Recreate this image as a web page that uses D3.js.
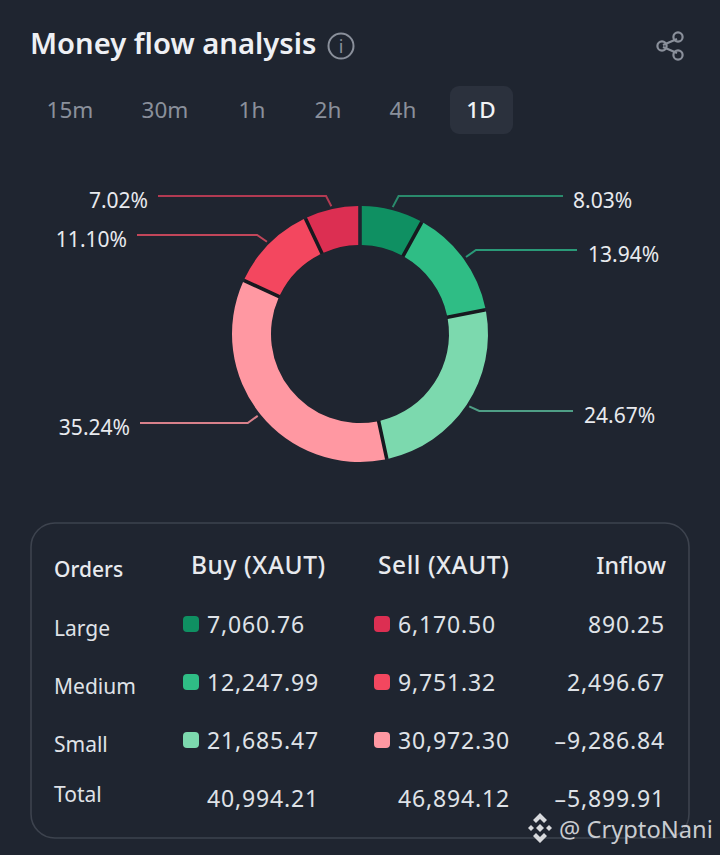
<!DOCTYPE html>
<html>
<head>
<meta charset="utf-8">
<script src="https://cdn.jsdelivr.net/npm/d3@7"></script>
<style>
  html, body { margin: 0; padding: 0; background: #1f2530; }
  svg { display: block; }
  text { font-family: "Noto Sans", sans-serif; }
</style>
</head>
<body>
<div id="chart"></div>
<script>
// ====================== money flow donut + orders table ===============

const sliceNames = ['Large buy', 'Medium buy', 'Small buy', 'Small sell', 'Medium sell', 'Large sell'];
const slicePercents = [8.03, 13.94, 24.67, 35.24, 11.10, 7.02];
const sliceColors = ['#0f9062', '#2fbd85', '#7cd9ae', '#ff98a2', '#f3475f', '#dc2f52'];

// where each leader line ends and its label sits
const leaderEndX = [563, 577, 573, 140, 137, 158];
const leaderEndY = [196, 250, 411, 423, 235, 196];
const leaderColors = ['#2a8a6c', '#2a9a78', '#4f9f86', '#d9818b', '#c2465a', '#b23a52'];
const labelX = [573, 588, 584, 130, 127, 148];
const labelY = [208, 262, 423, 435, 247, 208];

const timeframes = ['15m', '30m', '1h', '2h', '4h', '1D'];
const timeframeX = [70, 165, 252, 328, 403, 481];

const rowNames = ['Large', 'Medium', 'Small', 'Total'];
const rowNameY = [636, 694, 752, 802];
const buyValues = ['7,060.76', '12,247.99', '21,685.47', '40,994.21'];
const sellValues = ['6,170.50', '9,751.32', '30,972.30', '46,894.12'];
const inflowValues = ['890.25', '2,496.67', '\u20139,286.84', '\u20135,899.91'];
const valueY = [633, 691, 749, 807];
const buyColors = ['#0f9062', '#2fbd85', '#7cd9ae'];
const sellColors = ['#dc2f52', '#f3475f', '#ff98a2'];

const svg = d3.select('#chart')
    .append('svg')
    .attr('width', 720)
    .attr('height', 855);

svg.append('rect')
    .attr('width', 720)
    .attr('height', 855)
    .attr('fill', '#1f2530');

// ---------- header ----------
svg.append('text')
    .attr('x', 30)
    .attr('y', 54)
    .attr('font-size', 29.2)
    .attr('font-weight', 600)
    .attr('fill', '#eef0f4')
    .text('Money flow analysis');

const info = svg.append('g').attr('transform', 'translate(341,46)');
info.append('circle')
    .attr('r', 12.5)
    .attr('fill', 'none')
    .attr('stroke', '#8a909b')
    .attr('stroke-width', 2);
info.append('text')
    .attr('text-anchor', 'middle')
    .attr('y', 7)
    .attr('font-size', 18)
    .attr('fill', '#8a909b')
    .text('i');

const share = svg.append('g')
    .attr('fill', 'none')
    .attr('stroke', '#8a909b')
    .attr('stroke-width', 2.2);
share.append('path').attr('d', 'M677,39L663,45M663,47L677,53');
share.append('circle').attr('cx', 678).attr('cy', 37).attr('r', 4.6);
share.append('circle').attr('cx', 662).attr('cy', 46).attr('r', 4.6);
share.append('circle').attr('cx', 678).attr('cy', 55).attr('r', 4.6);

svg.append('rect')
    .attr('x', 450)
    .attr('y', 86)
    .attr('width', 63)
    .attr('height', 48)
    .attr('rx', 9)
    .attr('fill', '#2b313d');

svg.selectAll('.timeframe')
    .data(timeframes)
    .enter()
    .append('text')
    .attr('class', 'timeframe')
    .attr('x', (d, i) => timeframeX[i])
    .attr('y', 118)
    .attr('text-anchor', 'middle')
    .attr('font-size', 22.5)
    .attr('font-weight', d => d === '1D' ? 500 : 400)
    .attr('fill', d => d === '1D' ? '#f0f2f5' : '#8a909b')
    .text(d => d);

// ---------- donut ----------
const donut = svg.append('g').attr('transform', 'translate(360,334)');
const outerR = 128;
const innerR = 89;

const pie = d3.pie()
    .value(d => d)
    .sort(null);

const arc = d3.arc()
    .innerRadius(innerR)
    .outerRadius(outerR)
    .padRadius(outerR)
    .padAngle(0.028);

// dark seams between slices, the gap at 12 o'clock stays open
donut.append('path')
    .attr('d', d3.arc().innerRadius(innerR).outerRadius(outerR - 1)
        .startAngle(0.03).endAngle(2 * Math.PI - 0.03)())
    .attr('fill', '#17191f');

const slices = pie(slicePercents);

donut.selectAll('.slice')
    .data(slices)
    .enter()
    .append('path')
    .attr('class', 'slice')
    .attr('d', arc)
    .attr('fill', (d, i) => sliceColors[i])
    .append('title')
    .text((d, i) => sliceNames[i]);

// leader lines: out of the slice middle, one short elbow, then flat to the label
const leaderPath = (d, i) => {
    const angle = (d.startAngle + d.endAngle) / 2;
    const x0 = 360 + Math.sin(angle) * (outerR + 3);
    const y0 = 334 - Math.cos(angle) * (outerR + 3);
    const y1 = leaderEndY[i];
    const dir = Math.sign(leaderEndX[i] - x0);
    const x1 = x0 + dir * Math.min(10, Math.abs(y1 - y0) * Math.abs(Math.tan(angle)) + 3);
    return d3.line()([[x0, y0], [x1, y1], [leaderEndX[i], y1]]);
};

svg.selectAll('.leader')
    .data(slices)
    .enter()
    .append('path')
    .attr('class', 'leader')
    .attr('d', leaderPath)
    .attr('fill', 'none')
    .attr('stroke-width', 2)
    .attr('stroke', (d, i) => leaderColors[i]);

svg.selectAll('.pct')
    .data(slicePercents)
    .enter()
    .append('text')
    .attr('class', 'pct')
    .attr('x', (d, i) => labelX[i])
    .attr('y', (d, i) => labelY[i])
    .attr('text-anchor', (d, i) => i < 3 ? 'start' : 'end')
    .attr('font-size', 21)
    .attr('fill', '#e8eaee')
    .text(d => d.toFixed(2) + '%');

// ---------- table ----------
svg.append('rect')
    .attr('x', 31)
    .attr('y', 523)
    .attr('width', 658)
    .attr('height', 315)
    .attr('rx', 24)
    .attr('fill', 'none')
    .attr('stroke', '#3d434e')
    .attr('stroke-width', 1.6);

const cell = (x, y, txt, anchor, size, color) => svg.append('text')
    .attr('x', x)
    .attr('y', y)
    .attr('text-anchor', anchor)
    .attr('font-size', size)
    .attr('fill', color)
    .text(txt);

cell(54, 577, 'Orders', 'start', 21, '#e8eaee').attr('font-weight', 500);
cell(191, 574, 'Buy (XAUT)', 'start', 24.5, '#e8eaee').attr('font-weight', 500).attr('letter-spacing', 0.6);
cell(378, 574, 'Sell (XAUT)', 'start', 24.5, '#e8eaee').attr('font-weight', 500).attr('letter-spacing', 0.55);
cell(666, 574, 'Inflow', 'end', 23.2, '#e8eaee').attr('font-weight', 500);

rowNames.forEach((name, i) => {
    cell(54, rowNameY[i], name, 'start', 21, '#dfe2e7');
    cell(207, valueY[i], buyValues[i], 'start', 23, '#dfe2e7').attr('letter-spacing', 0.85);
    cell(398, valueY[i], sellValues[i], 'start', 23, '#dfe2e7').attr('letter-spacing', 0.85);
    cell(665, valueY[i], inflowValues[i], 'end', 23, '#dfe2e7').attr('letter-spacing', 0.85);
    if (i < 3) {
        svg.append('rect')
            .attr('x', 183).attr('y', valueY[i] - 17)
            .attr('width', 16).attr('height', 16).attr('rx', 4)
            .attr('fill', buyColors[i]);
        svg.append('rect')
            .attr('x', 374).attr('y', valueY[i] - 17)
            .attr('width', 16).attr('height', 16).attr('rx', 4)
            .attr('fill', sellColors[i]);
    }
});

// ---------- watermark ----------
const mark = svg.append('g')
    .attr('transform', 'translate(540,828)')
    .attr('fill', '#d8dadd');
mark.append('path')
    .attr('d', 'M0,-15L7,-8L4,-5L0,-9L-4,-5L-7,-8Z');
mark.append('path')
    .attr('d', 'M0,15L7,8L4,5L0,9L-4,5L-7,8Z');
mark.append('path')
    .attr('d', 'M0,-4L4,0L0,4L-4,0Z');
mark.append('path')
    .attr('d', 'M-9,-3L-6,0L-9,3L-12,0Z');
mark.append('path')
    .attr('d', 'M9,-3L12,0L9,3L6,0Z');
cell(559, 838, '@ CryptoNani', 'start', 23.7, '#c9ccd1');
</script>
</body>
</html>
